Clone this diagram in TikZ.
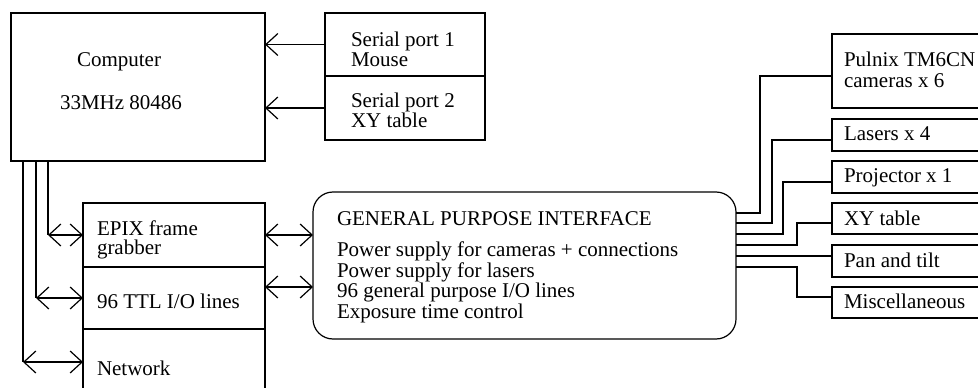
\documentclass[tikz,border=0pt]{standalone}
\usepackage{fontspec}
\setmainfont{Liberation Serif}
\usetikzlibrary{arrows.meta}
\begin{document}
\begin{tikzpicture}[x=1pt,y=-1pt,
  every node/.style={inner sep=0pt,outer sep=0pt},
  box/.style={draw,line width=1.2pt,rectangle},
  txt/.style={anchor=base west,font=\fontsize{21}{21}\selectfont},
  ln/.style={line width=1.2pt},
  arr/.style={ln,-{Straight Barb[length=12pt,width=22pt]}},
  dbl/.style={ln,{Straight Barb[length=12pt,width=22pt]}-{Straight Barb[length=12pt,width=22pt]}}]
\useasboundingbox (0,0) rectangle (978,388);
\clip (0,0) rectangle (978,388);
% computer
\node[box,minimum width=254pt,minimum height=148pt] (comp) at (138,87) {};
\node[txt] (t1) at (77,66) {Computer};
\node[txt] (t2) at (60,109) {33MHz 80486};
% serial ports
\node[box,minimum width=160pt,minimum height=63pt] (sp1) at (405,44.5) {};
\node[box,minimum width=160pt,minimum height=64pt] (sp2) at (405,108) {};
\node[txt] (t3) at (351,46) {Serial port 1};
\node[txt] (t4) at (351,66) {Mouse};
\node[txt] (t5) at (351,107) {Serial port 2};
\node[txt] (t6) at (351,127) {XY table};
\draw[arr] (sp1.west) -- (sp1.west -| comp.east);
\draw[arr] (sp2.west) -- (sp2.west -| comp.east);
% boards
\node[box,minimum width=182pt,minimum height=64pt] (epix) at (174,235) {};
\node[box,minimum width=182pt,minimum height=62pt] (ttl) at (174,298) {};
\node[box,minimum width=182pt,minimum height=66pt] (net) at (174,362) {};
\node[txt] (t7) at (97,235) {EPIX frame};
\node[txt] (t8) at (97,254) {grabber};
\node[txt] (t9) at (97,308) {96 TTL I/O lines};
\node[txt] (t10) at (97,375) {Network};
\coordinate (cA) at (48,161);
\coordinate (cB) at (36,161);
\coordinate (cC) at (23,161);
\draw[ln] (cA) -- (cA |- epix.west);
\draw[ln] (cB) -- (cB |- ttl.west);
\draw[ln] (cC) -- (cC |- net.west);
\draw[dbl] (cA |- epix.west) -- (epix.west);
\draw[dbl] (cB |- ttl.west) -- (ttl.west);
\draw[dbl] (cC |- net.west) -- (net.west);
% GPI
\node[box,rounded corners=20pt,minimum width=423pt,minimum height=147pt] (gpi) at (524.5,265.5) {};
\node[txt] (t11) at (337,225) {GENERAL PURPOSE INTERFACE};
\node[txt] (t12) at (337,256) {Power supply for cameras + connections};
\node[txt] (t13) at (337,277) {Power supply for lasers};
\node[txt] (t14) at (337,297) {96 general purpose I/O lines};
\node[txt] (t15) at (337,318) {Exposure time control};
\coordinate (ioR) at (265,287);
\draw[dbl] (epix.east) -- (epix.east -| gpi.west);
\draw[dbl] (ioR) -- (ioR -| gpi.west);
% right boxes
\node[box,minimum width=170pt,minimum height=74pt] (pul) at (917,71) {};
\node[box,minimum width=170pt,minimum height=32pt] (las) at (917,135) {};
\node[box,minimum width=170pt,minimum height=32pt] (pro) at (917,177) {};
\node[box,minimum width=170pt,minimum height=31pt] (xy) at (917,218.5) {};
\node[box,minimum width=170pt,minimum height=32pt] (pan) at (917,261) {};
\node[box,minimum width=170pt,minimum height=31pt] (mis) at (917,302.5) {};
\node[txt] (t16) at (844,66) {Pulnix TM6CN};
\node[txt] (t17) at (844,87) {cameras x 6};
\node[txt] (t18) at (844,140) {Lasers x 4};
\node[txt] (t19) at (844,182) {Projector x 1};
\node[txt] (t20) at (844,225) {XY table};
\node[txt] (t21) at (844,267) {Pan and tilt};
\node[txt] (t22) at (844,308) {Miscellaneous};
\coordinate (g1) at (736,213);
\coordinate (g2) at (736,223);
\coordinate (g3) at (736,234);
\coordinate (g4) at (736,245);
\coordinate (g5) at (736,256);
\coordinate (g6) at (736,267);
\coordinate (i1) at (832,76);
\coordinate (i2) at (832,140);
\coordinate (i3) at (832,182);
\coordinate (i4) at (832,223);
\coordinate (i6) at (832,297);
\draw[ln] (g1) -| (760,0 |- i1) -- (i1);
\draw[ln] (g2) -| (772,0 |- i2) -- (i2);
\draw[ln] (g3) -| (783,0 |- i3) -- (i3);
\draw[ln] (g4) -| (797,0 |- i4) -- (i4);
\draw[ln] (g5) -- (g5 -| pan.west);
\draw[ln] (g6) -| (797,0 |- i6) -- (i6);
\end{tikzpicture}
\end{document}
